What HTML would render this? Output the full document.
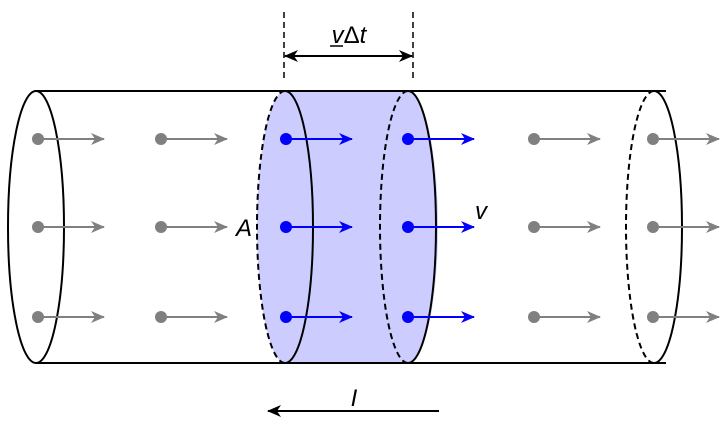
<!DOCTYPE html>
<html><head><style>body{margin:0;background:#fff}</style></head><body>
<svg width="728" height="419" viewBox="0 0 728 419" xmlns="http://www.w3.org/2000/svg" font-family="Liberation Sans, sans-serif">
<defs>
<marker id="ag" viewBox="0 0 14 12" markerWidth="14" markerHeight="12" refX="13" refY="6" orient="auto" markerUnits="userSpaceOnUse" overflow="visible"><path d="M0,0 L14,6 L0,12 L4,6 Z" fill="#808080"/></marker>
<marker id="ab" viewBox="0 0 14 12" markerWidth="14" markerHeight="12" refX="13" refY="6" orient="auto" markerUnits="userSpaceOnUse" overflow="visible"><path d="M0,0 L14,6 L0,12 L4,6 Z" fill="#0000ff"/></marker>
<marker id="ak" viewBox="0 0 14 12" markerWidth="14" markerHeight="12" refX="13" refY="6" orient="auto-start-reverse" markerUnits="userSpaceOnUse" overflow="visible"><path d="M0,0 L14,6 L0,12 L4,6 Z" fill="#000"/></marker>
</defs>
<path d="M285,91 L408,91 A30,136 0 0 1 408,363 L285,363 A28,136 0 0 1 285,91 Z" fill="#ccccff"/>
<line x1="36" y1="91" x2="666" y2="91" stroke="#000" stroke-width="2"/>
<line x1="36" y1="363" x2="666" y2="363" stroke="#000" stroke-width="2"/>
<ellipse cx="36" cy="227" rx="28" ry="136" fill="none" stroke="#000" stroke-width="2"/>
<path d="M285,91 A28,136 0 0 1 285,363" fill="none" stroke="#000" stroke-width="2"/>
<path d="M285,91 A28,136 0 0 0 285,363" fill="none" stroke="#000" stroke-width="2" stroke-dasharray="6,4"/>
<path d="M408,91 A28,136 0 0 1 408,363" fill="none" stroke="#000" stroke-width="2"/>
<path d="M408,91 A28,136 0 0 0 408,363" fill="none" stroke="#000" stroke-width="2" stroke-dasharray="6,4"/>
<path d="M654,91 A28,136 0 0 1 654,363" fill="none" stroke="#000" stroke-width="2"/>
<path d="M654,91 A28,136 0 0 0 654,363" fill="none" stroke="#000" stroke-width="2" stroke-dasharray="6,4"/>
<g stroke-width="2">
<g fill="#808080" stroke="#808080">
<circle cx="38" cy="139" r="6" stroke="none"/><line x1="38" y1="139" x2="104" y2="139" marker-end="url(#ag)"/>
<circle cx="38" cy="227" r="6" stroke="none"/><line x1="38" y1="227" x2="104" y2="227" marker-end="url(#ag)"/>
<circle cx="38" cy="317" r="6" stroke="none"/><line x1="38" y1="317" x2="104" y2="317" marker-end="url(#ag)"/>
<circle cx="161" cy="139" r="6" stroke="none"/><line x1="161" y1="139" x2="227" y2="139" marker-end="url(#ag)"/>
<circle cx="161" cy="227" r="6" stroke="none"/><line x1="161" y1="227" x2="227" y2="227" marker-end="url(#ag)"/>
<circle cx="161" cy="317" r="6" stroke="none"/><line x1="161" y1="317" x2="227" y2="317" marker-end="url(#ag)"/>
<circle cx="534" cy="139" r="6" stroke="none"/><line x1="534" y1="139" x2="600" y2="139" marker-end="url(#ag)"/>
<circle cx="534" cy="227" r="6" stroke="none"/><line x1="534" y1="227" x2="600" y2="227" marker-end="url(#ag)"/>
<circle cx="534" cy="317" r="6" stroke="none"/><line x1="534" y1="317" x2="600" y2="317" marker-end="url(#ag)"/>
<circle cx="653" cy="139" r="6" stroke="none"/><line x1="653" y1="139" x2="719" y2="139" marker-end="url(#ag)"/>
<circle cx="653" cy="227" r="6" stroke="none"/><line x1="653" y1="227" x2="719" y2="227" marker-end="url(#ag)"/>
<circle cx="653" cy="317" r="6" stroke="none"/><line x1="653" y1="317" x2="719" y2="317" marker-end="url(#ag)"/>
</g>
<g fill="#0000ff" stroke="#0000ff">
<circle cx="286" cy="139" r="6" stroke="none"/><line x1="286" y1="139" x2="352" y2="139" marker-end="url(#ab)"/>
<circle cx="286" cy="227" r="6" stroke="none"/><line x1="286" y1="227" x2="352" y2="227" marker-end="url(#ab)"/>
<circle cx="286" cy="317" r="6" stroke="none"/><line x1="286" y1="317" x2="352" y2="317" marker-end="url(#ab)"/>
<circle cx="408" cy="139" r="6" stroke="none"/><line x1="408" y1="139" x2="474" y2="139" marker-end="url(#ab)"/>
<circle cx="408" cy="227" r="6" stroke="none"/><line x1="408" y1="227" x2="474" y2="227" marker-end="url(#ab)"/>
<circle cx="408" cy="317" r="6" stroke="none"/><line x1="408" y1="317" x2="474" y2="317" marker-end="url(#ab)"/>
</g>
</g>
<line x1="284" y1="12" x2="284" y2="80" stroke="#000" stroke-width="1.5" stroke-dasharray="6,4"/>
<line x1="413" y1="12" x2="413" y2="80" stroke="#000" stroke-width="1.5" stroke-dasharray="6,4"/>
<line x1="285" y1="56" x2="412" y2="56" stroke="#000" stroke-width="2" marker-start="url(#ak)" marker-end="url(#ak)"/>
<text x="349" y="43" font-size="24" text-anchor="middle"><tspan font-style="italic">v</tspan>Δ<tspan font-style="italic">t</tspan></text>
<line x1="330" y1="46" x2="343" y2="46" stroke="#000" stroke-width="1.5"/>
<text x="244" y="236" font-size="24" font-style="italic" text-anchor="middle">A</text>
<text x="481" y="219" font-size="24" font-style="italic" text-anchor="middle">v</text>
<text x="354" y="406" font-size="24" font-style="italic" text-anchor="middle">I</text>
<line x1="439" y1="411" x2="268" y2="411" stroke="#000" stroke-width="2" marker-end="url(#ak)"/>
</svg>
</body></html>
